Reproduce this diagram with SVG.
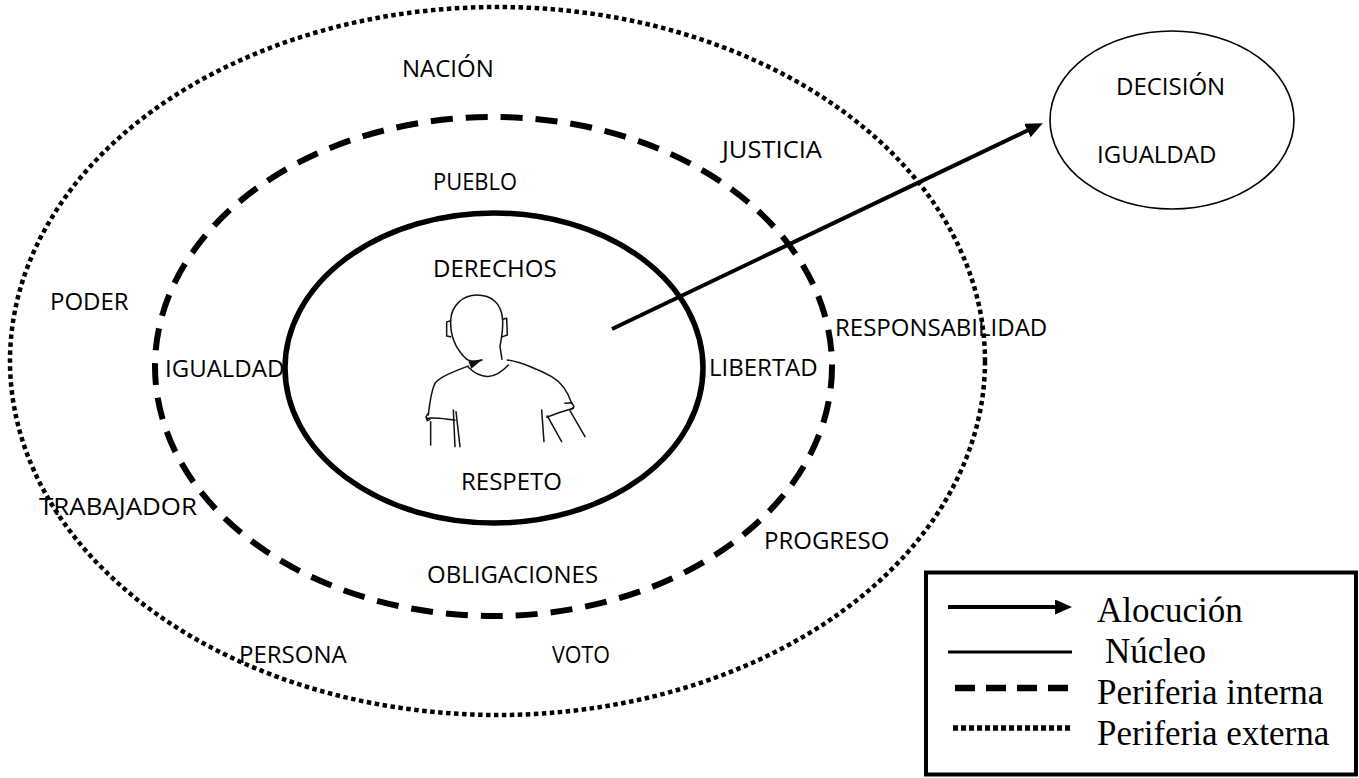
<svg xmlns="http://www.w3.org/2000/svg" width="1359" height="778" viewBox="0 0 1359 778">
  <style>
    .lbl { font-family: "Open Sans", "Liberation Sans", sans-serif; font-size: 24px; fill: #000; }
    .leg { font-family: "Liberation Serif", "Times New Roman", serif; font-size: 35px; fill: #000; }
    .ring { fill: none; stroke: #000; }
    .outer { stroke-width: 4.5; stroke-dasharray: 4.5 3.5; }
    .inner { stroke-width: 6; stroke-dasharray: 22 13; }
    .core { stroke-width: 5.5; }
    .sketch { fill: none; stroke: #111; stroke-width: 4.5; stroke-linecap: round; stroke-linejoin: round; }
  </style>
  <defs>
    <marker id="head" markerUnits="userSpaceOnUse" markerWidth="17" markerHeight="15" refX="4" refY="7.5" orient="auto">
      <path d="M0,0 L17,7.5 L0,15 z" fill="#000"/>
    </marker>
  </defs>
  <rect width="1359" height="778" fill="#fff"/>

  <!-- outer periphery -->
  <g id="periferia-externa">
    <ellipse class="ring outer" cx="497.5" cy="361" rx="487.5" ry="354"/>
    <text class="lbl" x="402" y="77">NACIÓN</text>
    <text class="lbl" x="722" y="158" textLength="100" lengthAdjust="spacingAndGlyphs">JUSTICIA</text>
    <text class="lbl" x="50" y="310">PODER</text>
    <text class="lbl" x="835" y="336">RESPONSABILIDAD</text>
    <text class="lbl" x="39" y="515" textLength="158" lengthAdjust="spacingAndGlyphs">TRABAJADOR</text>
    <text class="lbl" x="764" y="549">PROGRESO</text>
    <text class="lbl" x="239" y="663">PERSONA</text>
    <text class="lbl" x="552" y="663" textLength="58" lengthAdjust="spacingAndGlyphs">VOTO</text>
  </g>

  <!-- inner periphery -->
  <g id="periferia-interna">
    <ellipse class="ring inner" cx="493.5" cy="366.5" rx="338.5" ry="249.5"/>
    <text class="lbl" x="433" y="190" textLength="84" lengthAdjust="spacingAndGlyphs">PUEBLO</text>
    <text class="lbl" x="165" y="377">IGUALDAD</text>
    <text class="lbl" x="709" y="376">LIBERTAD</text>
    <text class="lbl" x="427" y="583">OBLIGACIONES</text>
  </g>

  <!-- nucleus with the citizen figure -->
  <g id="nucleo">
    <ellipse class="ring core" cx="494" cy="368" rx="209" ry="155"/>
    <text class="lbl" x="433" y="277">DERECHOS</text>
    <text class="lbl" x="461" y="490">RESPETO</text>
    <g id="figura" transform="translate(400 280) scale(0.3333)">
      <path class="sketch" d="M200,238 C170,210 150,170 152,120 C155,75 190,45 230,45 C275,45 305,70 308,120 C310,160 300,192 300,200 L306,238"/>
      <path class="sketch" d="M200,238 Q222,250 246,240"/>
      <path d="M205,244 L248,238 L214,266 z" fill="#111"/>
      <path class="sketch" d="M152,122 L140,126 L140,168 L152,170"/>
      <path class="sketch" d="M308,118 L320,115 L322,165 L308,170"/>
      <path class="sketch" d="M205,262 Q265,320 325,255"/>
      <path class="sketch" d="M205,258 C160,275 120,290 105,310 C95,330 90,360 85,405"/>
      <path class="sketch" d="M85,400 L78,410 L82,422 L90,418"/>
      <path class="sketch" d="M82,415 C110,412 140,418 165,420"/>
      <path class="sketch" d="M92,425 L92,495"/>
      <path class="sketch" d="M160,390 L165,500"/>
      <path class="sketch" d="M168,395 L180,500"/>
      <path class="sketch" d="M322,240 C360,245 420,270 455,290 C490,310 505,340 515,370"/>
      <path class="sketch" d="M495,370 L515,368 L522,380 L515,388"/>
      <path class="sketch" d="M440,412 C470,400 495,392 520,385"/>
      <path class="sketch" d="M425,390 L432,485"/>
      <path class="sketch" d="M442,408 L485,485"/>
      <path class="sketch" d="M510,392 L555,470"/>
    </g>
  </g>

  <!-- decision node -->
  <g id="decision">
    <ellipse cx="1172" cy="120" rx="122" ry="89" fill="none" stroke="#000" stroke-width="1.6"/>
    <text class="lbl" x="1116" y="95">DECISIÓN</text>
    <text class="lbl" x="1097" y="163">IGUALDAD</text>
  </g>

  <!-- connectors -->
  <g id="connectors">
    <line x1="612" y1="329" x2="1031" y2="128.8" stroke="#000" stroke-width="4" marker-end="url(#head)"/>
  </g>

  <!-- legend -->
  <g id="legend">
    <rect x="926" y="572.5" width="430" height="202" fill="none" stroke="#000" stroke-width="4"/>
    <line x1="948" y1="607" x2="1059" y2="607" stroke="#000" stroke-width="4" marker-end="url(#head)"/>
    <text class="leg" x="1097" y="622">Alocución</text>
    <line x1="948" y1="652" x2="1072" y2="652" stroke="#000" stroke-width="3"/>
    <text class="leg" x="1105" y="663">Núcleo</text>
    <line x1="955" y1="688" x2="1070" y2="688" stroke="#000" stroke-width="6.5" stroke-dasharray="20 11"/>
    <text class="leg" x="1097" y="704">Periferia interna</text>
    <line x1="953" y1="728" x2="1070" y2="728" stroke="#000" stroke-width="5.5" stroke-dasharray="5 3"/>
    <text class="leg" x="1097" y="745">Periferia externa</text>
  </g>
</svg>
